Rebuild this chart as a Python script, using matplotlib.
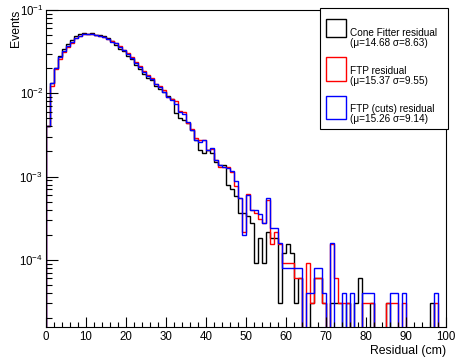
import numpy as np
import matplotlib.pyplot as plt
from matplotlib.patches import Rectangle
from matplotlib.ticker import MultipleLocator, LogLocator, NullFormatter

plt.rcParams['font.family'] = ['Liberation Sans', 'DejaVu Sans']
plt.rcParams['mathtext.fontset'] = 'custom'
plt.rcParams['mathtext.rm'] = 'Liberation Sans'
plt.rcParams['mathtext.it'] = 'Liberation Sans:italic'
plt.rcParams['mathtext.bf'] = 'Liberation Sans:bold'

# 1 cm bins from 0 to 100
edges = np.arange(0, 101, 1)

# entries per histogram (each histogram normalised to unit area)
n_cone = 32700
n_ftp = 32700
n_cuts = 25100

cone_counts = [132, 435, 657, 916, 1112, 1279, 1426, 1592, 1684, 1733,
               1684, 1733, 1638, 1638, 1592, 1507, 1386, 1243, 1112, 1053,
               916, 844, 716, 641, 556, 500, 471, 399, 370, 340,
               303, 279, 190, 165, 156, 144, 119, 90, 68, 63,
               68, 63, 49, 45, 45, 26, 23, 19, 12, 12,
               11, 9, 3, 6, 3, 7, 6, 6, 1, 4,
               5, 4, 1, 2, 0, 0, 1, 2, 2, 1,
               0, 1, 1, 1, 0, 1, 0, 1, 2, 0,
               0, 1, 0, 0, 0, 1, 0, 0, 0, 0,
               0, 0, 0, 0, 0, 0, 1, 0, 0, 0]

ftp_counts = [132, 399, 641, 844, 1024, 1177, 1315, 1507, 1592, 1684,
              1684, 1684, 1638, 1592, 1550, 1468, 1386, 1315, 1210, 1082,
              997, 893, 775, 697, 605, 543, 500, 422, 399, 360,
              295, 279, 264, 200, 195, 144, 122, 95, 90, 90,
              68, 70, 52, 42, 43, 42, 37, 25, 18, 7,
              20, 13, 12, 10, 9, 17, 5, 7, 5, 3,
              3, 3, 2, 2, 0, 3, 1, 2, 2, 1,
              0, 5, 2, 1, 1, 1, 0, 0, 0, 1,
              1, 1, 0, 0, 0, 1, 1, 1, 0, 1,
              0, 0, 0, 0, 0, 0, 0, 1, 0, 0]

cuts_counts = [102, 334, 505, 685, 808, 929, 1037, 1157, 1222, 1293,
               1293, 1293, 1258, 1222, 1190, 1127, 1037, 1009, 904, 831,
               743, 665, 580, 520, 452, 404, 371, 324, 299, 261,
               227, 209, 187, 150, 142, 113, 91, 69, 65, 69,
               52, 55, 40, 35, 33, 32, 29, 22, 14, 5,
               15, 10, 10, 9, 7, 14, 6, 6, 4, 2,
               2, 2, 2, 2, 0, 1, 1, 2, 2, 1,
               0, 4, 0, 0, 1, 0, 1, 0, 0, 1,
               1, 1, 0, 0, 0, 0, 1, 1, 0, 1,
               0, 0, 0, 0, 0, 0, 0, 1, 0, 0]

series = [
    (cone_counts, n_cone, 'black', 'Cone Fitter residual', '(\u03bc=14.68 \u03c3=8.63)'),
    (ftp_counts, n_ftp, '#ff0000', 'FTP residual', '(\u03bc=15.37 \u03c3=9.55)'),
    (cuts_counts, n_cuts, '#0000ff', 'FTP (cuts) residual', '(\u03bc=15.26 \u03c3=9.14)'),
]

W, H = 458, 358
fig = plt.figure(figsize=(W / 100, H / 100), dpi=100)
ax = fig.add_axes([46 / W, 1 - 327 / H, 400 / W, 317 / H])

for counts, n, col, _, _ in series:
    ax.stairs(np.array(counts) / n, edges, color=col, lw=1.0)

ax.set_yscale('log')
ax.set_xlim(0, 100)
ax.set_ylim(1.56e-5, 0.1)

ax.xaxis.set_major_locator(MultipleLocator(10))
ax.xaxis.set_minor_locator(MultipleLocator(2))
ax.yaxis.set_major_locator(LogLocator(base=10, numticks=10))
ax.yaxis.set_minor_locator(LogLocator(base=10, subs=np.arange(2, 10), numticks=12))
ax.yaxis.set_minor_formatter(NullFormatter())

ax.tick_params(which='both', direction='in', top=False, right=False, width=0.8)
ax.tick_params(axis='x', which='major', length=7.2, labelsize=8.3, pad=3)
ax.tick_params(axis='x', which='minor', length=3.4)
ax.tick_params(axis='y', which='major', length=8.6, labelsize=8.3, pad=2)
ax.tick_params(axis='y', which='minor', length=4.3)
for s in ax.spines.values():
    s.set_linewidth(0.8)

ax.set_xlabel('Residual (cm)', loc='right', fontsize=8.8, labelpad=1)
ax.set_ylabel('Events', loc='top', fontsize=8.8, labelpad=-2)

# legend box, drawn ROOT-style
def fx(x):
    return x / W

def fy(y):
    return 1 - y / H

fig.add_artist(Rectangle((fx(320), fy(129)), 128 / W, 121 / H, transform=fig.transFigure,
                         facecolor='white', edgecolor='black', lw=0.8))
box_rows = [(19, 37, 38), (57, 81, 76.5), (96, 119, 114.5)]
for (counts, n, col, name, stats), (top, bot, tc) in zip(series, box_rows):
    fig.add_artist(Rectangle((fx(326), fy(bot)), 20 / W, (bot - top) / H,
                             transform=fig.transFigure, facecolor='none',
                             edgecolor=col, lw=1.0))
    fig.text(fx(350.5), fy(tc), name + '\n' + stats, fontsize=7.2, va='center',
             ha='left', linespacing=1.0)

fig.savefig('out.png', dpi=100)
